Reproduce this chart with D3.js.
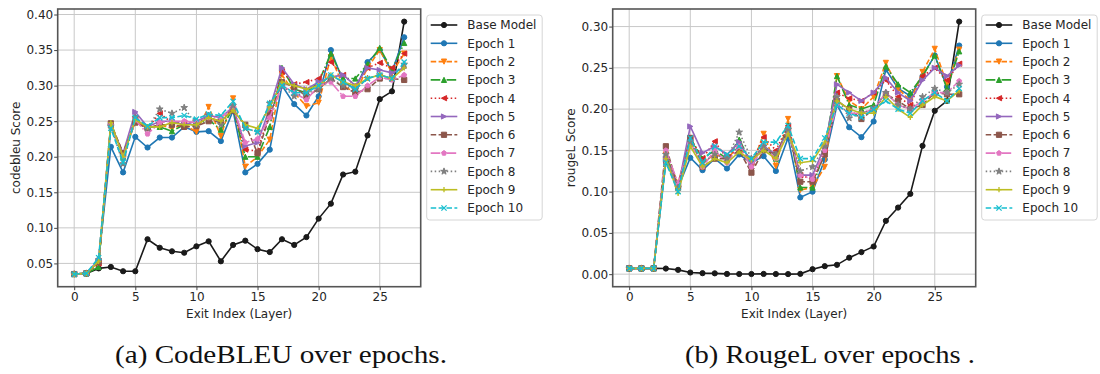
<!DOCTYPE html>
<html>
  <head>
    <title>Exit index scores</title>
    <script src="https://cdn.jsdelivr.net/npm/d3@7/dist/d3.min.js"></script>
    <style type="text/css">

html, body {
  margin: 0;
  background: #fff;
}

svg {
  display: block;
  font-family: "DejaVu Sans", sans-serif;
}

.tick text {
  font-size: 12px;
  fill: #262626;
}

.caption {
  font-family: "Liberation Serif", "DejaVu Serif", serif;
  font-size: 25px;
  fill: #111;
}

    </style>
  </head>
  <body>
    <script type="text/javascript">

var layers = d3.range(28);
var seriesNames = ["Base Model", "Epoch 1", "Epoch 2", "Epoch 3", "Epoch 4", "Epoch 5",
  "Epoch 6", "Epoch 7", "Epoch 8", "Epoch 9", "Epoch 10"];
var xTicks = [0, 5, 10, 15, 20, 25];
var codebleuTicks = [0.05, 0.10, 0.15, 0.20, 0.25, 0.30, 0.35, 0.40];
var rougeTicks = [0.00, 0.05, 0.10, 0.15, 0.20, 0.25, 0.30];

// codebleu score per exit layer
var codebleuBase = [0.035,0.036,0.043,0.045,0.039,0.039,0.084,0.072,0.067,0.065,0.074,0.081,0.053,0.076,0.082,0.070,0.066,0.084,0.076,0.087,0.113,0.134,0.175,0.179,0.230,0.281,0.292,0.390];
var codebleuE1 = [0.035,0.036,0.055,0.214,0.178,0.228,0.213,0.227,0.227,0.242,0.235,0.236,0.222,0.265,0.178,0.190,0.210,0.300,0.274,0.258,0.285,0.350,0.306,0.295,0.333,0.350,0.320,0.368];
var codebleuE2 = [0.035,0.036,0.050,0.246,0.200,0.250,0.240,0.245,0.240,0.245,0.235,0.270,0.229,0.282,0.186,0.200,0.224,0.315,0.290,0.271,0.276,0.340,0.300,0.290,0.325,0.350,0.318,0.345];
var codebleuE3 = [0.035,0.036,0.045,0.245,0.200,0.252,0.242,0.242,0.236,0.245,0.245,0.252,0.238,0.268,0.200,0.200,0.242,0.325,0.295,0.290,0.305,0.345,0.310,0.310,0.330,0.353,0.322,0.360];
var codebleuE4 = [0.035,0.036,0.050,0.245,0.205,0.255,0.240,0.261,0.248,0.248,0.248,0.255,0.250,0.268,0.210,0.208,0.262,0.320,0.302,0.305,0.310,0.333,0.315,0.300,0.325,0.332,0.325,0.345];
var codebleuE5 = [0.035,0.036,0.052,0.245,0.205,0.263,0.242,0.250,0.250,0.245,0.250,0.258,0.255,0.270,0.215,0.220,0.268,0.325,0.302,0.295,0.305,0.312,0.315,0.300,0.325,0.322,0.318,0.325];
var codebleuE6 = [0.035,0.036,0.052,0.247,0.205,0.248,0.240,0.245,0.245,0.242,0.243,0.250,0.250,0.265,0.245,0.205,0.258,0.305,0.298,0.285,0.295,0.310,0.298,0.290,0.295,0.310,0.310,0.308];
var codebleuE7 = [0.035,0.036,0.055,0.245,0.200,0.252,0.232,0.248,0.250,0.250,0.248,0.255,0.255,0.270,0.220,0.225,0.255,0.300,0.290,0.280,0.300,0.305,0.285,0.285,0.300,0.312,0.308,0.315];
var codebleuE8 = [0.035,0.036,0.055,0.243,0.190,0.255,0.240,0.267,0.261,0.269,0.245,0.258,0.245,0.272,0.240,0.235,0.275,0.300,0.285,0.290,0.295,0.310,0.300,0.295,0.310,0.315,0.310,0.330];
var codebleuE9 = [0.035,0.036,0.053,0.248,0.200,0.252,0.242,0.242,0.248,0.245,0.245,0.255,0.250,0.265,0.245,0.240,0.270,0.305,0.300,0.295,0.300,0.315,0.305,0.300,0.310,0.315,0.310,0.325];
var codebleuE10 = [0.035,0.036,0.058,0.240,0.192,0.255,0.243,0.255,0.255,0.258,0.253,0.260,0.258,0.278,0.240,0.235,0.275,0.300,0.290,0.290,0.300,0.315,0.305,0.295,0.310,0.315,0.310,0.333];

// rougeL score per exit layer
var rougeBase = [0.007,0.007,0.007,0.0068,0.0052,0.002,0.0012,0.001,0.0003,0.0002,0.0002,0.0003,0.0002,0.0001,0.0004,0.006,0.0097,0.0113,0.020,0.0267,0.0335,0.0646,0.0807,0.0973,0.1555,0.198,0.210,0.306];
var rougeE1 = [0.007,0.007,0.007,0.136,0.105,0.141,0.126,0.140,0.128,0.145,0.135,0.143,0.125,0.165,0.093,0.100,0.139,0.205,0.178,0.166,0.185,0.248,0.225,0.216,0.240,0.265,0.227,0.277];
var rougeE2 = [0.007,0.007,0.007,0.145,0.110,0.165,0.135,0.145,0.140,0.155,0.130,0.170,0.131,0.188,0.102,0.105,0.130,0.240,0.210,0.200,0.215,0.256,0.225,0.210,0.245,0.273,0.230,0.272];
var rougeE3 = [0.007,0.007,0.007,0.145,0.105,0.165,0.140,0.150,0.140,0.163,0.135,0.155,0.140,0.180,0.105,0.105,0.150,0.240,0.205,0.200,0.205,0.252,0.230,0.220,0.240,0.265,0.225,0.270];
var rougeE4 = [0.007,0.007,0.007,0.140,0.110,0.165,0.140,0.161,0.140,0.155,0.135,0.166,0.150,0.180,0.120,0.115,0.150,0.220,0.213,0.210,0.220,0.235,0.215,0.205,0.240,0.250,0.235,0.255];
var rougeE5 = [0.007,0.007,0.007,0.140,0.105,0.179,0.147,0.155,0.145,0.160,0.135,0.155,0.145,0.175,0.120,0.120,0.155,0.230,0.220,0.210,0.220,0.238,0.220,0.210,0.235,0.250,0.240,0.253];
var rougeE6 = [0.007,0.007,0.007,0.155,0.105,0.165,0.130,0.140,0.140,0.150,0.123,0.150,0.145,0.175,0.112,0.112,0.145,0.210,0.200,0.188,0.200,0.218,0.210,0.200,0.205,0.220,0.218,0.218];
var rougeE7 = [0.007,0.007,0.007,0.150,0.110,0.160,0.130,0.150,0.135,0.155,0.130,0.155,0.140,0.175,0.120,0.115,0.150,0.205,0.195,0.195,0.200,0.220,0.205,0.200,0.210,0.220,0.220,0.234];
var rougeE8 = [0.007,0.007,0.007,0.145,0.105,0.160,0.135,0.145,0.140,0.172,0.140,0.155,0.145,0.175,0.125,0.130,0.155,0.215,0.189,0.195,0.200,0.220,0.205,0.200,0.215,0.225,0.220,0.230];
var rougeE9 = [0.007,0.007,0.007,0.140,0.098,0.155,0.130,0.140,0.135,0.148,0.138,0.150,0.140,0.170,0.135,0.137,0.160,0.210,0.200,0.195,0.195,0.215,0.200,0.190,0.205,0.215,0.210,0.222];
var rougeE10 = [0.007,0.007,0.007,0.135,0.100,0.165,0.135,0.155,0.145,0.155,0.140,0.160,0.160,0.180,0.140,0.140,0.165,0.205,0.195,0.190,0.200,0.210,0.200,0.195,0.210,0.220,0.210,0.225];

var colors = ["#1a1a1a", "#1f77b4", "#ff7f0e", "#2ca02c", "#d62728", "#9467bd",
  "#8c564b", "#e377c2", "#7f7f7f", "#bcbd22", "#17becf"];
var markers = ["o", "o", "v", "^", "<", ">", "s", "p", "*", "+", "x"];
var dashes = {
  solid: null,
  dashed: "5.5,2.4",
  dashdot: "9.6,2.4,1.5,2.4",
  dotted: "1.5,2.5"
};
var styles = ["solid", "solid", "dashed", "dashdot", "dotted", "solid",
  "dashed", "dashdot", "dotted", "solid", "dashed"];

var svg = d3.select("body")
  .append("svg")
    .attr("width", 1100)
    .attr("height", 374);

drawPanel({
  left: 57.7, right: 420.7, top: 9, bottom: 286.7,
  legendX: 426.7,
  series: [codebleuBase, codebleuE1, codebleuE2, codebleuE3, codebleuE4, codebleuE5,
    codebleuE6, codebleuE7, codebleuE8, codebleuE9, codebleuE10],
  yTicks: codebleuTicks,
  yLabel: "codebleu Score"
});

drawPanel({
  left: 612.7, right: 975.7, top: 9, bottom: 286.7,
  legendX: 981.7,
  series: [rougeBase, rougeE1, rougeE2, rougeE3, rougeE4, rougeE5,
    rougeE6, rougeE7, rougeE8, rougeE9, rougeE10],
  yTicks: rougeTicks,
  yLabel: "rougeL Score"
});

svg.append("text")
    .attr("class", "caption")
    .attr("x", 115)
    .attr("y", 363)
    .attr("textLength", 332)
    .attr("lengthAdjust", "spacingAndGlyphs")
    .text("(a) CodeBLEU over epochs.");

svg.append("text")
    .attr("class", "caption")
    .attr("x", 685)
    .attr("y", 363)
    .attr("textLength", 290)
    .attr("lengthAdjust", "spacingAndGlyphs")
    .text("(b) RougeL over epochs .");

function drawPanel(p) {
  // matplotlib style 5% margins
  var lo = d3.min(p.series, function(s) { return d3.min(s); });
  var hi = d3.max(p.series, function(s) { return d3.max(s); });
  var pad = (hi - lo) * 0.05;

  var x = d3.scaleLinear()
      .domain([-27 * 0.05, 27 * 1.05])
      .range([p.left, p.right]);

  var y = d3.scaleLinear()
      .domain([lo - pad, hi + pad])
      .range([p.bottom, p.top]);

  var g = svg.append("g");

  // grid
  g.append("g").selectAll("line")
      .data(xTicks)
    .enter().append("line")
      .attr("x1", function(d) { return x(d); })
      .attr("x2", function(d) { return x(d); })
      .attr("y1", p.top)
      .attr("y2", p.bottom)
      .attr("stroke", "#c8c8c8")
      .attr("stroke-width", 1);

  g.append("g").selectAll("line")
      .data(p.yTicks)
    .enter().append("line")
      .attr("x1", p.left)
      .attr("x2", p.right)
      .attr("y1", function(d) { return y(d); })
      .attr("y2", function(d) { return y(d); })
      .attr("stroke", "#c8c8c8")
      .attr("stroke-width", 1);

  var line = d3.line()
      .x(function(d, i) { return x(layers[i]); })
      .y(function(d) { return y(d); });

  p.series.forEach(function(s, k) {
    var sg = g.append("g");
    sg.append("path")
        .attr("d", line(s))
        .attr("fill", "none")
        .attr("stroke", colors[k])
        .attr("stroke-width", 1.6)
        .attr("stroke-dasharray", dashes[styles[k]]);
    drawMarkers(sg, s.map(function(v, i) { return [x(layers[i]), y(v)]; }), k);
  });

  // frame
  g.append("rect")
      .attr("x", p.left)
      .attr("y", p.top)
      .attr("width", p.right - p.left)
      .attr("height", p.bottom - p.top)
      .attr("fill", "none")
      .attr("stroke", "#555")
      .attr("stroke-width", 1.6);

  var xAxis = g.append("g")
      .attr("transform", "translate(0," + p.bottom + ")")
      .call(d3.axisBottom(x).tickValues(xTicks).tickSize(3.5).tickPadding(2.5));

  var yAxis = g.append("g")
      .attr("transform", "translate(" + p.left + ",0)")
      .call(d3.axisLeft(y).tickValues(p.yTicks).tickSize(3.5).tickPadding(1)
        .tickFormat(d3.format(".2f")));

  [xAxis, yAxis].forEach(function(a) {
    a.select(".domain").remove();
    a.selectAll(".tick line").attr("stroke", "#444");
    a.selectAll(".tick text").attr("font-family", "DejaVu Sans");
  });

  g.append("text")
      .attr("x", (p.left + p.right) / 2)
      .attr("y", 318)
      .attr("text-anchor", "middle")
      .attr("font-size", 12)
      .attr("fill", "#262626")
      .text("Exit Index (Layer)");

  g.append("text")
      .attr("transform", "translate(" + (p.left - 38.1) + "," + ((p.top + p.bottom) / 2) + ") rotate(-90)")
      .attr("text-anchor", "middle")
      .attr("font-size", 12)
      .attr("fill", "#262626")
      .text(p.yLabel);

  // legend
  var lg = g.append("g")
      .attr("transform", "translate(" + p.legendX + ",15)");

  lg.append("rect")
      .attr("width", 115.5)
      .attr("height", 205)
      .attr("rx", 3)
      .attr("fill", "#fff")
      .attr("fill-opacity", 0.8)
      .attr("stroke", "#d6d6d6")
      .attr("stroke-width", 1);

  seriesNames.forEach(function(name, k) {
    var cy = 10 + k * 18.3;
    lg.append("line")
        .attr("x1", 4)
        .attr("x2", 30.6)
        .attr("y1", cy)
        .attr("y2", cy)
        .attr("stroke", colors[k])
        .attr("stroke-width", 1.6)
        .attr("stroke-dasharray", dashes[styles[k]]);
    drawMarkers(lg, [[17.3, cy]], k);
    lg.append("text")
        .attr("x", 40.6)
        .attr("y", cy)
        .attr("dy", "0.36em")
        .attr("font-size", 12)
        .attr("fill", "#262626")
        .text(name);
  });
}

function drawMarkers(sel, pts, k) {
  var m = markers[k];
  var open = m === "+" || m === "x";
  sel.append("g").selectAll("path")
      .data(pts)
    .enter().append("path")
      .attr("transform", function(d) { return "translate(" + d[0] + "," + d[1] + ")"; })
      .attr("d", markerPath(m, m === "*" ? 7 : 5.2))
      .attr("fill", open ? "none" : colors[k])
      .attr("stroke", colors[k])
      .attr("stroke-width", open ? 1.3 : 1);
}

function markerPath(m, s) {
  var r = s / 2, pts, i, a;
  if (m === "o") {
    return "M" + r + ",0A" + r + "," + r + " 0 1,1 " + (-r) + ",0A" + r + "," + r + " 0 1,1 " + r + ",0Z";
  }
  if (m === "^") return "M0," + (-r) + "L" + r + "," + r + "L" + (-r) + "," + r + "Z";
  if (m === "v") return "M0," + r + "L" + r + "," + (-r) + "L" + (-r) + "," + (-r) + "Z";
  if (m === "<") return "M" + (-r) + ",0L" + r + "," + (-r) + "L" + r + "," + r + "Z";
  if (m === ">") return "M" + r + ",0L" + (-r) + "," + (-r) + "L" + (-r) + "," + r + "Z";
  if (m === "s") return "M" + (-r) + "," + (-r) + "H" + r + "V" + r + "H" + (-r) + "Z";
  if (m === "+") return "M" + (-r) + ",0H" + r + "M0," + (-r) + "V" + r;
  if (m === "x") return "M" + (-r) + "," + (-r) + "L" + r + "," + r + "M" + (-r) + "," + r + "L" + r + "," + (-r);
  pts = [];
  if (m === "p") {
    for (i = 0; i < 5; i++) {
      a = -Math.PI / 2 + i * 2 * Math.PI / 5;
      pts.push([r * Math.cos(a), r * Math.sin(a)]);
    }
  } else {
    for (i = 0; i < 10; i++) {
      a = -Math.PI / 2 + i * Math.PI / 5;
      var rr = i % 2 ? r * 0.382 : r;
      pts.push([rr * Math.cos(a), rr * Math.sin(a)]);
    }
  }
  return "M" + pts.map(function(q) { return q[0].toFixed(2) + "," + q[1].toFixed(2); }).join("L") + "Z";
}

    </script>
  </body>
</html>
